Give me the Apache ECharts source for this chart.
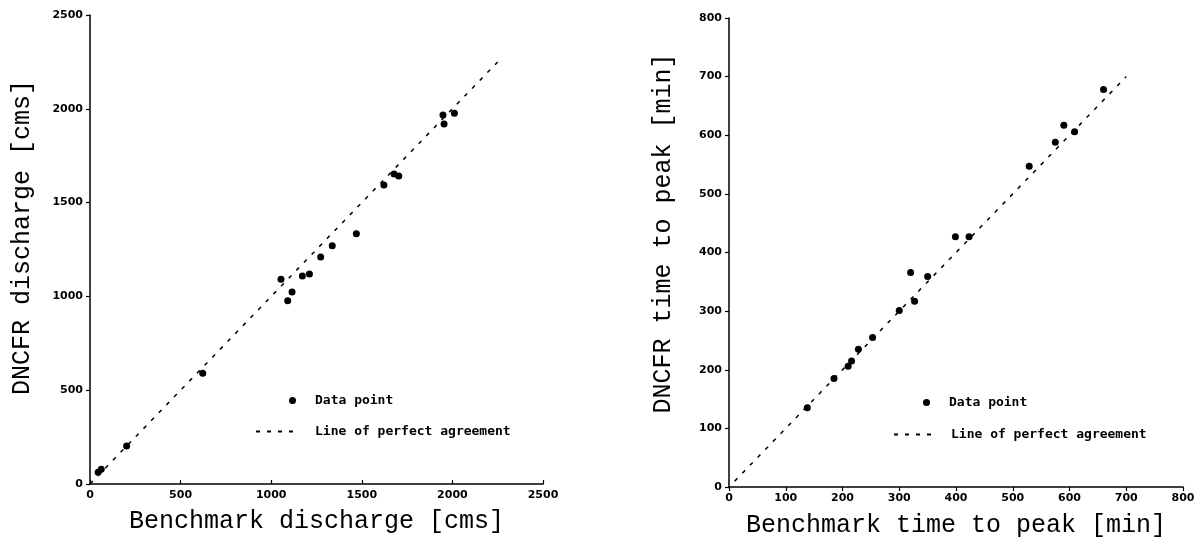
<!DOCTYPE html>
<html>
<head>
<meta charset="utf-8">
<script src="https://cdn.jsdelivr.net/npm/echarts@6/dist/echarts.min.js"></script>
<style>
  html, body { margin: 0; padding: 0; background: #fff; }
  #main { width: 1200px; height: 543px; }
</style>
</head>
<body>
<div id="main"></div>
<script>
// left panel: peak discharge [cms]
var dischargeBench = [45, 62, 202, 622, 1054, 1091, 1115, 1172, 1211, 1273, 1337, 1470, 1622, 1678, 1704, 1948, 1954, 2011];
var dischargeDncfr = [62, 78, 203, 590, 1091, 977, 1023, 1109, 1119, 1210, 1270, 1334, 1594, 1652, 1642, 1967, 1919, 1976];
var dischargeLine = [0, 2250];
var dischargeTicks = [0, 500, 1000, 1500, 2000, 2500];

// right panel: time to peak [min]
var timeBench = [138, 185, 210, 216, 228, 253, 300, 327, 320, 350, 399, 423, 529, 575, 590, 609, 660];
var timeDncfr = [135, 185, 206, 215, 235, 255, 301, 317, 366, 359, 427, 427, 547, 588, 617, 606, 678];
var timeLine = [10, 700];
var timeTicks = [0, 100, 200, 300, 400, 500, 600, 700, 800];

var chart = echarts.init(document.getElementById('main'));

var tickFont = { fontFamily: 'DejaVu Sans', fontWeight: 'bold', fontSize: 11, color: '#000' };
var axisLine = { show: true, onZero: false, lineStyle: { color: '#000', width: 1.5 } };

function pairs(xs, ys) {
    return xs.map(function (x, i) { return [x, ys[i]]; });
}

function valueAxis(idx, ticks, name, gap, isY, tickInside, shift) {
    return {
        type: 'value', gridIndex: idx,
        min: ticks[0], max: ticks[ticks.length - 1], interval: ticks[1] - ticks[0],
        name: name, nameLocation: 'middle', nameGap: gap,
        nameTextStyle: { fontFamily: 'Liberation Mono', fontSize: 25, color: '#000', padding: [0, 0, 0, shift] },
        axisLine: axisLine,
        axisTick: { show: true, inside: tickInside, length: 4, lineStyle: { color: '#000', width: 1.2 } },
        axisLabel: Object.assign({ margin: isY ? 7 : 6, formatter: function (v) { return String(v); } }, tickFont),
        splitLine: { show: false }
    };
}

function legendItem(name, left, top, w, pad, hideSymbol) {
    var lg = {
        data: [name], left: left, top: top, itemWidth: w, itemHeight: 7,
        selectedMode: false,
        textStyle: { fontFamily: 'DejaVu Sans Mono', fontWeight: 'bold', fontSize: 13, color: '#000', padding: [0, 0, 0, pad] }
    };
    if (hideSymbol) lg.itemStyle = { opacity: 0 };
    return lg;
}

var dashStyle = { color: '#000', width: 1.5, type: [4, 7] };
var dotStyle = { color: '#000', opacity: 1 };

chart.setOption({
    animation: false,
    backgroundColor: '#fff',
    grid: [
        { left: 90, right: 657, top: 15, bottom: 59 },
        { left: 729, right: 17, top: 18, bottom: 56 }
    ],
    xAxis: [
        valueAxis(0, dischargeTicks, 'Benchmark discharge [cms]', 25, false, true, 0),
        valueAxis(1, timeTicks, 'Benchmark time to peak [min]', 26, false, false, 0)
    ],
    yAxis: [
        valueAxis(0, dischargeTicks, 'DNCFR discharge [cms]', 55, true, false, 24),
        valueAxis(1, timeTicks, 'DNCFR time to peak [min]', 53, true, false, 38)
    ],
    legend: [
        legendItem('Data point', 284, 389, 7, 14, false),
        legendItem('Line of perfect agreement', 250, 420, 44, 10, true),
        legendItem('Data point', 918, 391, 7, 14, false),
        legendItem('Line of perfect agreement', 888, 423, 44, 8, true)
    ],
    series: [
        {
            name: 'Data point', type: 'scatter', xAxisIndex: 0, yAxisIndex: 0,
            symbol: 'circle', symbolSize: 7, itemStyle: dotStyle,
            data: pairs(dischargeBench, dischargeDncfr)
        },
        {
            name: 'Line of perfect agreement', type: 'line', xAxisIndex: 0, yAxisIndex: 0,
            symbol: 'none', lineStyle: dashStyle, itemStyle: { color: '#000' },
            data: pairs(dischargeLine, dischargeLine)
        },
        {
            name: 'Data point', type: 'scatter', xAxisIndex: 1, yAxisIndex: 1,
            symbol: 'circle', symbolSize: 7, itemStyle: dotStyle,
            data: pairs(timeBench, timeDncfr)
        },
        {
            name: 'Line of perfect agreement', type: 'line', xAxisIndex: 1, yAxisIndex: 1,
            symbol: 'none', lineStyle: dashStyle, itemStyle: { color: '#000' },
            data: pairs(timeLine, timeLine)
        }
    ]
});
</script>
</body>
</html>
